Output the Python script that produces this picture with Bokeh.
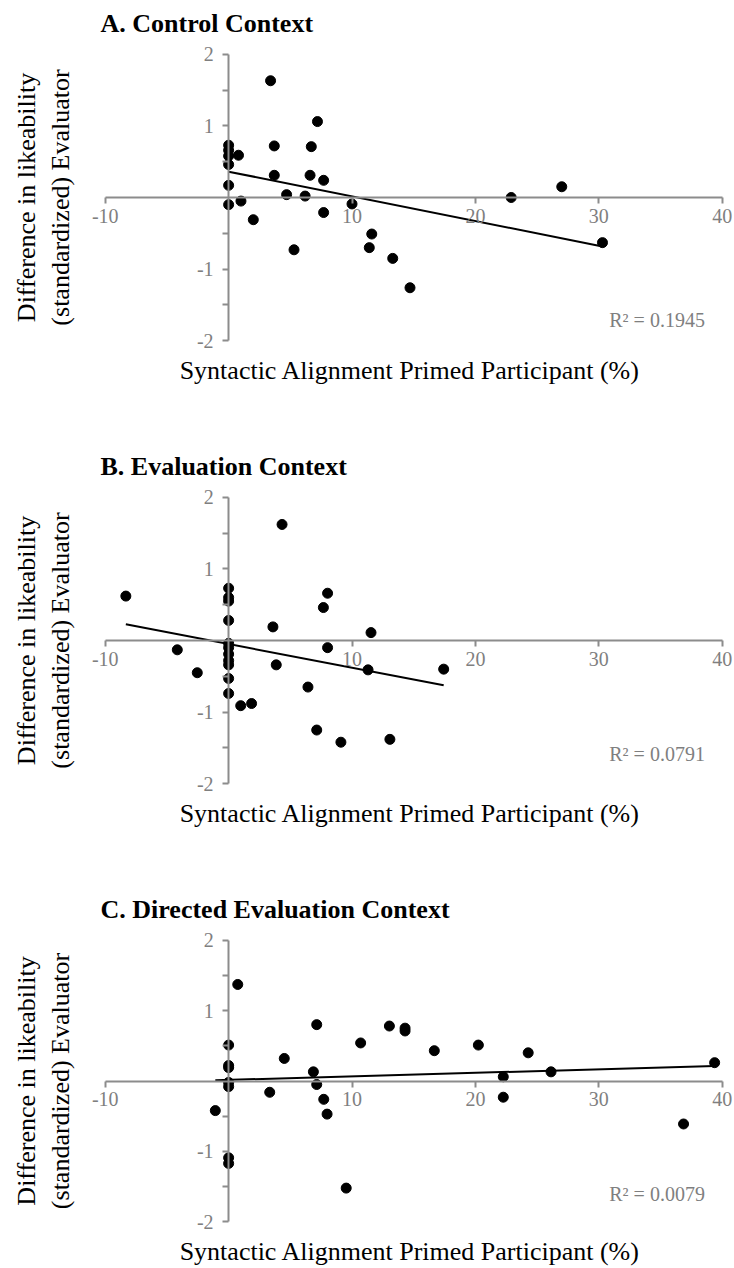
import numpy as np
from bokeh.plotting import figure
from bokeh.models import Range1d, FixedTicker, Label, LinearAxis
from bokeh.layouts import column
from bokeh.embed import file_html
from bokeh.resources import INLINE

# ---- texts ----
panel_titles = ["A. Control Context", "B. Evaluation Context", "C. Directed Evaluation Context"]
x_title = "Syntactic Alignment Primed Participant (%)"
y_title_line1 = "Difference in likeability"
y_title_line2 = "(standardized) Evaluator"
r2_texts = ["R\u00b2 = 0.1945", "R\u00b2 = 0.0791", "R\u00b2 = 0.0079"]
x_ticks = [-10, 10, 20, 30, 40]
y_ticks = [-2, -1, 1, 2]
y_minor_ticks = [-1.5, -0.5, 0.5, 1.5]

# ---- data ----
control_x = [3.4, 7.2, 0, 0, 0, 0, 0.8, 3.7, 6.7, 3.7, 6.6, 7.7, 0, 4.7, 6.2, 0, 1.0,
             2.0, 7.7, 10.0, 5.3, 11.6, 11.4, 13.3, 14.7, 22.9, 27.0, 30.3]
control_y = [1.63, 1.06, 0.73, 0.66, 0.58, 0.46, 0.59, 0.72, 0.71, 0.31, 0.31, 0.24, 0.17,
             0.04, 0.02, -0.10, -0.05, -0.31, -0.21, -0.09, -0.73, -0.51, -0.70, -0.85,
             -1.26, 0.0, 0.15, -0.63]

evaluation_x = [-8.33, -4.16, -2.54, 4.33, 0, 0, 0, 0, 0, 0, 0, 0, 0, 0, 0, 3.59, 3.86,
                0.98, 1.86, 8.02, 7.68, 8.02, 11.54, 11.3, 6.43, 7.14, 9.1, 13.07, 17.43]
evaluation_y = [0.62, -0.13, -0.45, 1.62, 0.73, 0.60, 0.55, 0.28, -0.04, -0.10, -0.19,
                -0.28, -0.34, -0.53, -0.74, 0.19, -0.34, -0.91, -0.88, 0.66, 0.46, -0.10,
                0.11, -0.41, -0.65, -1.25, -1.42, -1.38, -0.40]

directed_x = [0.74, 0, 0, 0, 0, 0, 0, 0, -1.08, 3.33, 4.51, 7.14, 6.87, 7.14, 7.71, 7.98,
              9.53, 10.7, 13.03, 14.3, 14.3, 16.67, 20.24, 22.26, 22.26, 24.28, 26.13,
              36.87, 39.39]
directed_y = [1.37, 0.51, 0.22, 0.19, -0.02, -0.08, -1.09, -1.17, -0.42, -0.16, 0.32, 0.80,
              0.13, -0.05, -0.26, -0.47, -1.52, 0.54, 0.78, 0.75, 0.71, 0.43, 0.51, 0.06,
              -0.23, 0.40, 0.13, -0.61, 0.26]

FONT = "Liberation Serif"
AXIS_GRAY = "#8c8c8c"
LABEL_GRAY = "#7f7f7f"
TOP = 42
FRAME_H = 309
LEFT = 85


def label_axis(text, standoff):
    ax = LinearAxis(ticker=FixedTicker(ticks=[]), axis_label=text,
                    axis_label_standoff=standoff, axis_label_text_font=FONT,
                    axis_label_text_font_size="26px", axis_label_text_font_style="normal",
                    axis_label_text_color="black", axis_line_color=None,
                    major_tick_out=0, major_tick_in=0, minor_tick_out=0, minor_tick_in=0,
                    major_label_text_font_size="0px")
    return ax


def make_panel(title, xs, ys, r2, height, r2_y):
    p = figure(width=734, height=height, output_backend="svg", toolbar_location=None,
               x_range=Range1d(-11.6, 41.0), y_range=Range1d(-2.15, 2.15),
               min_border_left=LEFT, min_border_right=0, min_border_top=TOP,
               min_border_bottom=height - TOP - FRAME_H, x_axis_type=None, y_axis_type=None)
    p.title.text = title
    p.title.text_font = FONT
    p.title.text_font_size = "26px"
    p.title.text_font_style = "bold"
    p.title.text_color = "black"
    p.title.align = "left"
    p.title.offset = 15
    p.title.standoff = 12

    p.outline_line_color = None
    p.xgrid.visible = False
    p.ygrid.visible = False
    p.background_fill_color = "white"
    p.border_fill_color = "white"

    xaxis = LinearAxis(ticker=FixedTicker(ticks=x_ticks), bounds=(-10, 40),
                       major_label_overrides={t: str(t) for t in x_ticks},
                       major_label_standoff=5)
    yaxis = LinearAxis(ticker=FixedTicker(ticks=y_ticks, minor_ticks=y_minor_ticks),
                       bounds=(-2, 2),
                       major_label_overrides={t: str(t) for t in y_ticks},
                       major_label_standoff=9)
    for ax in (xaxis, yaxis):
        ax.fixed_location = 0
        ax.axis_line_color = AXIS_GRAY
        ax.axis_line_width = 2
        ax.major_tick_line_color = AXIS_GRAY
        ax.major_tick_line_width = 2
        ax.minor_tick_line_color = AXIS_GRAY
        ax.minor_tick_line_width = 2
        ax.major_tick_in = 0
        ax.major_tick_out = 6
        ax.minor_tick_in = 0
        ax.minor_tick_out = 6
        ax.major_label_text_font = FONT
        ax.major_label_text_font_size = "20px"
        ax.major_label_text_color = LABEL_GRAY
    p.add_layout(xaxis, "below")
    p.add_layout(yaxis, "left")

    # axis titles (tick-less axes used only for their labels)
    p.add_layout(label_axis(y_title_line2, 11), "left")
    p.add_layout(label_axis(y_title_line1, 2), "left")
    p.add_layout(label_axis(x_title, 4), "below")

    # trendline (least squares over the data range)
    xa = np.asarray(xs, dtype=float)
    ya = np.asarray(ys, dtype=float)
    slope, intercept = np.polyfit(xa, ya, 1)
    fx = np.array([xa.min(), xa.max()])
    p.line(fx, slope * fx + intercept, line_color="black", line_width=2)

    p.scatter(xs, ys, size=10, color="black")

    p.add_layout(Label(x=38.6, y=r2_y, text=r2, text_align="right", text_baseline="middle",
                       text_font=FONT, text_font_size="20px", text_color=LABEL_GRAY))
    return p


pa = make_panel(panel_titles[0], control_x, control_y, r2_texts[0], 443, -1.71)
pb = make_panel(panel_titles[1], evaluation_x, evaluation_y, r2_texts[1], 443, -1.58)
pc = make_panel(panel_titles[2], directed_x, directed_y, r2_texts[2], 382, -1.6)

layout = column(pa, pb, pc, spacing=0)
open("out.html", "w").write(file_html(layout, INLINE))
